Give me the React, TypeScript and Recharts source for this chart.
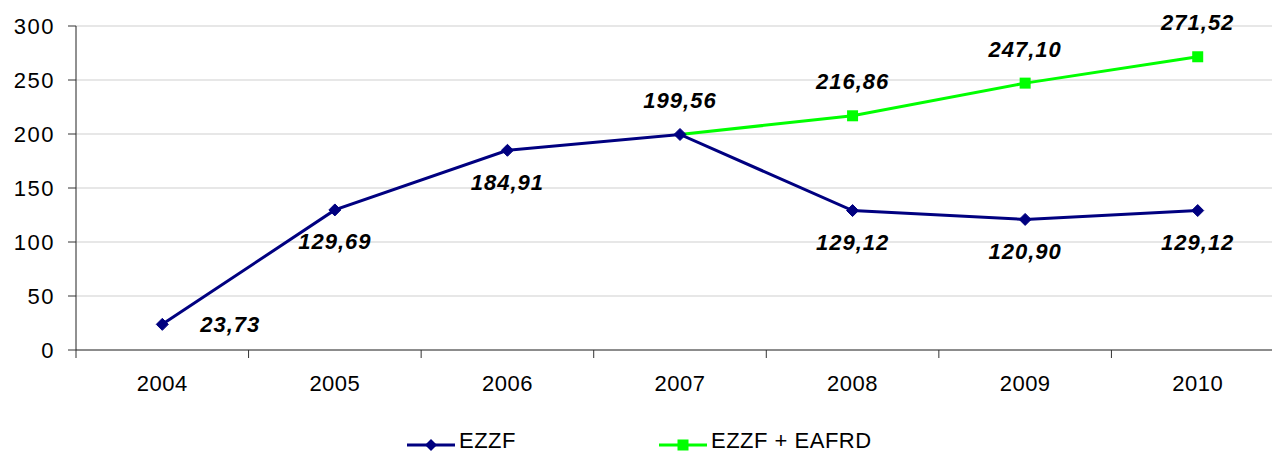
import React from 'react';
import { LineChart, Line, XAxis, YAxis, CartesianGrid, LabelList } from 'recharts';

const years = ['2004', '2005', '2006', '2007', '2008', '2009', '2010'];
const ezzf = [23.73, 129.69, 184.91, 199.56, 129.12, 120.9, 129.12];
const ezzfEafrd: (number | null)[] = [null, null, null, 199.56, 216.86, 247.1, 271.52];
const yTicks = [0, 50, 100, 150, 200, 250, 300];
const ezzfLabelPlacement = ['right', 'below', 'below', 'above', 'below', 'below', 'below'];
const seriesNames = ['EZZF', 'EZZF + EAFRD'];

const BLUE = '#000080';
const GREEN = '#00ff00';
const FONT = '"Liberation Sans", Arial, sans-serif';

const CHART_W = 1272;
const CHART_H = 454;
const MARGIN = { top: 26, right: -12, left: 0, bottom: 40 };
const Y_W = 76;
const PLOT_W = CHART_W - MARGIN.left - MARGIN.right - Y_W;
const BAND = PLOT_W / years.length;

const data = years.map((y, i) => ({ year: y, ezzf: ezzf[i], both: ezzfEafrd[i] }));

const fmt = (v: number) => v.toFixed(2).replace('.', ',');

const labelStyle = { fontFamily: FONT, fontSize: 22, fontWeight: 700, fontStyle: 'italic', letterSpacing: 1 } as const;

const XTick = (props: any) => {
  const { x, y, payload } = props;
  const bx = x - BAND / 2;
  return (
    <g>
      <line x1={bx} x2={bx} y1={y} y2={y + 8} stroke="#333" strokeWidth={1} />
      <text x={x} y={y + 33} textAnchor="middle" dominantBaseline="central" fill="#000" style={{ fontFamily: FONT, fontSize: 22, letterSpacing: 0.5 }}>
        {payload.value}
      </text>
    </g>
  );
};

const Diamond = (props: any) => {
  const { cx, cy, index } = props;
  if (cx == null || cy == null) return <g key={`d${index}`} />;
  const s = 6;
  return <polygon key={`d${index}`} points={`${cx},${cy - s} ${cx + s},${cy} ${cx},${cy + s} ${cx - s},${cy}`} fill={BLUE} stroke={BLUE} />;
};

const Square = (props: any) => {
  const { cx, cy, index } = props;
  if (cx == null || cy == null || index === 3) return <g key={`s${index}`} />;
  const s = 5.5;
  return <rect key={`s${index}`} x={cx - s} y={cy - s} width={2 * s} height={2 * s} fill={GREEN} />;
};

const blueLabel = (props: any) => {
  const { x, y, value, index } = props;
  const place = ezzfLabelPlacement[index];
  let tx = x, ty = y, anchor: 'middle' | 'start' = 'middle';
  if (place === 'right') { tx = x + 38; anchor = 'start'; }
  else if (place === 'below') { ty = y + 32; }
  else { ty = y - 34; }
  return (
    <text key={`bl${index}`} x={tx} y={ty} textAnchor={anchor} dominantBaseline="central" fill="#000" style={labelStyle}>
      {fmt(value)}
    </text>
  );
};

const greenLabel = (props: any) => {
  const { x, y, value, index } = props;
  if (value == null || index === 3) return <g key={`gl${index}`} />;
  return (
    <text key={`gl${index}`} x={x} y={y - 34} textAnchor="middle" dominantBaseline="central" fill="#000" style={labelStyle}>
      {fmt(value)}
    </text>
  );
};

const LegendIcon = ({ color, square }: { color: string; square: boolean }) => (
  <svg width={48} height={16} style={{ display: 'block', marginTop: 7 }}>
    <line x1={0} x2={48} y1={8} y2={8} stroke={color} strokeWidth={3} />
    {square ? (
      <rect x={18.5} y={2.5} width={11} height={11} fill={color} />
    ) : (
      <polygon points="24,2 30,8 24,14 18,8" fill={color} />
    )}
  </svg>
);

const LegendBox = () => (
  <div style={{ position: 'absolute', left: 0, top: 430, width: CHART_W, display: 'flex', alignItems: 'flex-start', fontFamily: FONT, fontSize: 22, lineHeight: '22px', color: '#000', letterSpacing: 0.5 }}>
    <div style={{ display: 'flex', alignItems: 'flex-start', marginLeft: 407 }}>
      <LegendIcon color={BLUE} square={false} />
      <span style={{ marginLeft: 4 }}>{seriesNames[0]}</span>
    </div>
    <div style={{ display: 'flex', alignItems: 'flex-start', marginLeft: 143 }}>
      <LegendIcon color={GREEN} square={true} />
      <span style={{ marginLeft: 4 }}>{seriesNames[1]}</span>
    </div>
  </div>
);

export default function App() {
  return (
    <div style={{ position: 'fixed', left: 0, top: 0, width: CHART_W, height: CHART_H, overflow: 'hidden', background: '#fff' }}>
      <LineChart width={CHART_W} height={CHART_H} data={data} margin={MARGIN}>
        <CartesianGrid horizontal={true} vertical={false} stroke="#cfcfcf" strokeWidth={1} />
        <XAxis
          dataKey="year"
          scale="band"
          height={64}
          axisLine={{ stroke: '#333', strokeWidth: 1 }}
          tickLine={false}
          tickSize={0}
          tickMargin={0}
          tick={<XTick />}
          interval={0}
        />
        <YAxis
          width={Y_W}
          domain={[0, 300]}
          ticks={yTicks}
          interval={0}
          axisLine={{ stroke: '#222', strokeWidth: 1 }}
          tickLine={{ stroke: '#333' }}
          tickSize={8}
          tickMargin={13}
          tick={{ fill: '#000', fontFamily: FONT, fontSize: 22, letterSpacing: 1.5 }}
        />
        <Line
          name={seriesNames[1]}
          dataKey="both"
          stroke={GREEN}
          strokeWidth={3}
          dot={Square}
          activeDot={false}
          isAnimationActive={false}
          connectNulls={false}
        >
          <LabelList dataKey="both" content={greenLabel} />
        </Line>
        <Line
          name={seriesNames[0]}
          dataKey="ezzf"
          stroke={BLUE}
          strokeWidth={3}
          dot={Diamond}
          activeDot={false}
          isAnimationActive={false}
        >
          <LabelList dataKey="ezzf" content={blueLabel} />
        </Line>
      </LineChart>
      <LegendBox />
    </div>
  );
}
